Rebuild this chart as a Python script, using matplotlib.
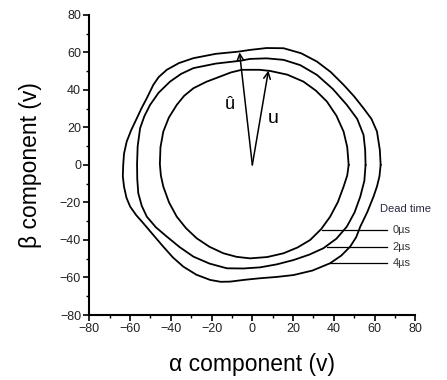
import numpy as np
import matplotlib
matplotlib.use("Agg")
import matplotlib.pyplot as plt
from matplotlib.ticker import MultipleLocator

plt.rcParams['font.family'] = ['Liberation Sans', 'DejaVu Sans']

# voltage trajectories (alpha, beta), dead time 4us / 2us / 0us
x_4us = [63.0, 62.6, 61.2, 58.5, 54.6, 50.0, 44.8, 38.5, 31.7, 24.0, 15.3, 7.0, -1.1,
         -6.7, -18.0, -28.9, -36.0, -42.0, -46.0, -48.6, -51.8, -54.5, -56.7, -59.5,
         -61.7, -63.0, -63.4, -63.6, -63.0, -61.8, -60.0, -57.0, -53.5, -48.5, -43.7,
         -39.0, -33.9, -27.5, -20.7, -15.5, -10.9, -3.5, 3.8, 12.0, 20.2, 29.5, 38.2,
         43.7, 48.0, 51.0, 53.0, 56.5, 59.5, 61.2, 62.4, 63.0]
y_4us = [0.0, 8.0, 17.8, 24.5, 30.2, 36.5, 42.7, 49.5, 55.1, 59.5, 62.2, 62.3, 61.3,
         60.4, 59.2, 56.9, 54.3, 50.7, 46.8, 42.7, 35.6, 30.0, 24.9, 18.5,
         12.4, 6.0, 0.0, -6.0, -11.6, -17.5, -22.2, -26.8, -31.1, -37.5, -43.6,
         -49.3, -54.2, -58.5, -61.3, -62.3, -62.2, -61.2, -60.4, -59.7, -58.7, -56.3, -52.4,
         -48.3, -43.6, -38.5, -32.9, -25.0, -16.9, -11.5, -6.2, 0.0]

x_2us = [55.6, 55.4, 54.6, 51.5, 46.4, 39.5, 31.7, 23.5, 15.3, 7.0, -1.1, -6.0, -18.0,
         -28.9, -35.0, -40.4, -46.0, -50.2, -53.0, -55.1, -56.3, -56.6, -56.5, -56.0,
         -54.3, -51.8, -47.3, -42.0, -35.7, -28.9, -21.0, -12.5, -4.5, 3.8, 12.0, 20.2,
         28.0, 34.9, 41.3, 46.4, 50.2, 53.0, 55.0, 55.6]
y_2us = [0.0, 8.0, 16.0, 24.5, 32.0, 40.5, 48.0, 53.2, 56.0, 56.8, 56.5, 55.5, 54.0,
         51.6, 48.5, 44.4, 38.5, 32.0, 26.0, 19.6, 10.0, 0.5, -7.5, -15.1,
         -21.8, -27.6, -33.3, -38.2, -43.8, -48.9, -52.6, -55.1, -55.2, -54.6, -53.0, -50.7,
         -47.8, -44.4, -39.3, -32.9, -25.3, -16.9, -8.5, 0.0]

x_0us = [47.3, 46.6, 44.8, 41.3, 36.6, 31.2, 25.1, 17.2, 8.7, 3.5, -5.2, -10.5, -15.8,
         -22.6, -28.9, -33.5, -37.1, -41.0, -43.7, -45.1, -45.4, -44.9, -43.7, -40.9,
         -37.1, -32.5, -27.3, -21.1, -14.2, -7.7, -1.1, 7.3, 15.3, 22.2, 28.4, 33.8,
         38.2, 42.0, 44.8, 46.6, 47.3]
y_0us = [0.0, 9.5, 17.8, 26.2, 33.8, 39.6, 44.4, 48.1, 50.1, 50.7, 50.7, 49.3, 47.1,
         44.3, 40.9, 36.8, 32.0, 25.2, 17.8, 9.5, 0.5, -5.7, -11.6, -20.0,
         -27.6, -33.8, -39.1, -43.6, -47.1, -49.0, -49.8, -49.1, -47.1, -44.0, -40.0, -34.2,
         -27.6, -19.8, -11.6, -5.6, 0.0]

# vectors u_hat and u
u_hat = (-6.3, 60.0)
u_vec = (7.9, 50.3)

# dead time labels and leader lines
dead_labels = ['0\u00b5s', '2\u00b5s', '4\u00b5s']
leader_y = [-34.7, -43.9, -52.4]
leader_x0 = [34.4, 36.6, 38.2]

fig = plt.figure(figsize=(4.47, 3.8), dpi=100)
ax = fig.add_axes([0.2, 0.171, 0.729, 0.79])

for xs, ys in [(x_4us, y_4us), (x_2us, y_2us), (x_0us, y_0us)]:
    ax.plot(xs, ys, color='black', lw=1.3, solid_joinstyle='round',
            solid_capstyle='round')

for tip in [u_hat, u_vec]:
    ax.annotate('', xy=tip, xytext=(0, 0),
                arrowprops=dict(arrowstyle='->', lw=1.1, color='black',
                                mutation_scale=12, shrinkA=0, shrinkB=0))
ax.text(-10.9, 32, '\u00fb', fontsize=13, ha='center', va='center')
ax.text(10.4, 25, 'u', fontsize=14, ha='center', va='center')

for lab, ly, lx in zip(dead_labels, leader_y, leader_x0):
    ax.plot([lx, 66], [ly, ly], color='black', lw=0.9)
    ax.text(69, ly, lab, fontsize=8, ha='left', va='center', color='#333333')
ax.text(62.8, -23.5, 'Dead time', fontsize=8, ha='left', va='center',
        color='#2a2a44', clip_on=False)

ax.set_xlim(-80, 80)
ax.set_ylim(-80, 80)
ax.xaxis.set_major_locator(MultipleLocator(20))
ax.yaxis.set_major_locator(MultipleLocator(20))
ax.xaxis.set_minor_locator(MultipleLocator(10))
ax.yaxis.set_minor_locator(MultipleLocator(10))
ax.tick_params(which='major', direction='out', length=4, width=1.2,
               labelsize=9, labelcolor='#222222', pad=2)
ax.tick_params(which='minor', direction='out', length=2.5, width=1.0)
for s in ['top', 'right']:
    ax.spines[s].set_visible(False)
for s in ['left', 'bottom']:
    ax.spines[s].set_linewidth(1.5)

ax.set_xlabel('\u03b1 component (v)', fontsize=16.5, labelpad=13)
ax.set_ylabel('\u03b2 component (v)', fontsize=16.5, labelpad=13)

fig.savefig('out.png', dpi=100)
